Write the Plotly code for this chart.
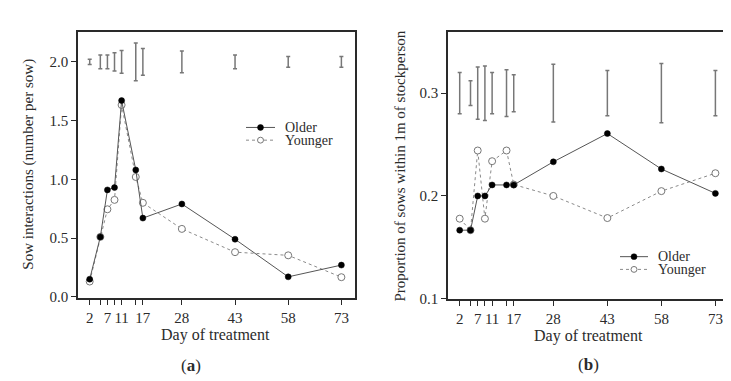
import plotly.graph_objects as go

# ---------------- data ----------------
days = [2, 5, 7, 9, 11, 15, 17, 28, 43, 58, 73]
tick_labels = ["2", "", "7", "", "11", "", "17", "28", "43", "58", "73"]

# panel (a): sow interactions (number per sow)
older_a = [0.15, 0.51, 0.91, 0.93, 1.67, 1.08, 0.67, 0.79, 0.49, 0.17, 0.27]
younger_a = [0.13, 0.51, 0.745, 0.825, 1.633, 1.02, 0.80, 0.578, 0.38, 0.353, 0.167]
err_center_a = [2.0, 2.0, 2.0, 2.0, 2.0, 2.0, 2.0, 2.0, 2.0, 2.0, 2.0]
err_half_a = [0.023, 0.058, 0.058, 0.078, 0.097, 0.16, 0.114, 0.092, 0.058, 0.046, 0.045]

# panel (b): proportion of sows within 1m of stockperson
older_b = [0.1667, 0.1667, 0.200, 0.200, 0.2107, 0.2107, 0.2107, 0.2332, 0.2607, 0.2262, 0.2025]
younger_b = [0.1779, 0.1667, 0.2442, 0.1779, 0.2338, 0.2442, 0.2111, 0.200, 0.1785, 0.2047, 0.2221]
err_center_b = [0.3, 0.3, 0.3, 0.3, 0.3, 0.3, 0.3, 0.3, 0.3, 0.3, 0.3]
err_half_b = [0.020, 0.012, 0.0255, 0.0265, 0.020, 0.0227, 0.018, 0.028, 0.022, 0.0288, 0.022]

series_names = ["Older", "Younger"]

# ---------------- layout helpers ----------------
W, H = 731, 381
FONT = "Liberation Serif, Times New Roman, serif"
TXT = "#2b2b2b"
FRAME = "#2a2a2a"
OLD_LINE = "#555555"
YNG_LINE = "#8a8a8a"
ERR = "#777777"


def px(x):
    return x / W


def py(y):
    return 1 - y / H


fig = go.Figure()


def add_panel(xa, ya, older, younger, ec, eh):
    fig.add_trace(go.Scatter(
        x=days, y=ec, mode="markers", xaxis=xa, yaxis=ya,
        marker=dict(size=1, color="rgba(0,0,0,0)"),
        error_y=dict(type="data", array=eh, visible=True, color=ERR,
                     thickness=1.5, width=2),
        showlegend=False, hoverinfo="skip"))
    fig.add_trace(go.Scatter(
        x=days, y=younger, mode="lines+markers", xaxis=xa, yaxis=ya,
        name=series_names[1],
        line=dict(color=YNG_LINE, width=1, dash="dot"),
        marker=dict(symbol="circle", size=7, color="white",
                    line=dict(color="#777777", width=1)),
        showlegend=False))
    fig.add_trace(go.Scatter(
        x=days, y=older, mode="lines+markers", xaxis=xa, yaxis=ya,
        name=series_names[0],
        line=dict(color=OLD_LINE, width=1),
        marker=dict(symbol="circle", size=6, color="black",
                    line=dict(color="black", width=0.5)),
        showlegend=False))


add_panel("x", "y", older_a, younger_a, err_center_a, err_half_a)
add_panel("x2", "y2", older_b, younger_b, err_center_b, err_half_b)

axis_common = dict(
    showline=True, mirror=True, linecolor=FRAME, linewidth=1.7,
    ticks="outside", ticklen=5, tickwidth=1.2, tickcolor=FRAME,
    showgrid=False, zeroline=False,
    tickfont=dict(family=FONT, size=15, color=TXT),
)

fig.update_layout(
    width=W, height=H,
    margin=dict(l=0, r=0, t=0, b=0),
    paper_bgcolor="white", plot_bgcolor="white",
    showlegend=False,
    xaxis=dict(domain=[px(70), px(347)], range=[-1.30, 76.84], anchor="y",
               tickvals=days, ticktext=tick_labels, **axis_common),
    yaxis=dict(domain=[py(296), py(25)], range=[-0.0083, 2.25], anchor="x",
               tickvals=[0.0, 0.5, 1.0, 1.5, 2.0],
               ticktext=["0.0", "0.5", "1.0", "1.5", "2.0"], **axis_common),
    xaxis2=dict(domain=[px(440), px(720)], range=[-1.25, 76.5], anchor="y2",
                tickvals=days, ticktext=tick_labels, **axis_common),
    yaxis2=dict(domain=[py(297), py(25)], range=[0.1, 0.359], anchor="x2",
                tickvals=[0.1, 0.2, 0.3], ticktext=["0.1", "0.2", "0.3"],
                **axis_common),
)

annotations = []


def text(x, y, s, size, angle=0):
    annotations.append(dict(x=px(x), y=py(y), xref="paper", yref="paper",
                            text=s, showarrow=False, textangle=angle,
                            font=dict(family=FONT, size=size, color=TXT),
                            xanchor="center", yanchor="middle"))


text(207, 334, "Day of treatment", 16)
text(580, 335, "Day of treatment", 16)
text(21, 160, "Sow interactions (number per sow)", 15, -90)
text(392, 162, "Proportion of sows within 1m of stockperson", 15, -90)
text(183, 365, "(<b>a</b>)", 17)
text(580, 364, "(<b>b</b>)", 17)

shapes = []


def legend(x0, x1, xt, y_old, y_new):
    xm = (x0 + x1) / 2
    shapes.append(dict(type="line", xref="paper", yref="paper",
                       x0=px(x0), x1=px(x1), y0=py(y_old), y1=py(y_old),
                       line=dict(color=OLD_LINE, width=1)))
    shapes.append(dict(type="circle", xref="paper", yref="paper",
                       x0=px(xm - 3), x1=px(xm + 3), y0=py(y_old + 3), y1=py(y_old - 3),
                       fillcolor="black", line=dict(color="black", width=0.5)))
    shapes.append(dict(type="line", xref="paper", yref="paper",
                       x0=px(x0), x1=px(x1), y0=py(y_new), y1=py(y_new),
                       line=dict(color=YNG_LINE, width=1, dash="dot")))
    shapes.append(dict(type="circle", xref="paper", yref="paper",
                       x0=px(xm - 3), x1=px(xm + 3), y0=py(y_new + 3), y1=py(y_new - 3),
                       fillcolor="white", line=dict(color="#777777", width=1)))
    for name, yy in zip(series_names, [y_old, y_new]):
        annotations.append(dict(x=px(xt), y=py(yy), xref="paper", yref="paper",
                                text=name, showarrow=False,
                                font=dict(family=FONT, size=14, color=TXT),
                                xanchor="left", yanchor="middle"))


legend(238, 267, 275, 122, 135)
legend(612, 640, 648, 254, 267)

fig.update_layout(annotations=annotations, shapes=shapes)

fig.write_html("out.html")
